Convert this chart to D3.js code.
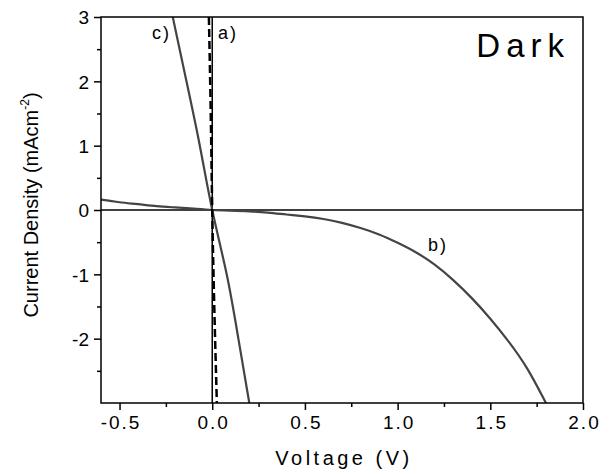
<!DOCTYPE html>
<html>
<head>
<meta charset="utf-8">
<script src="https://cdn.jsdelivr.net/npm/d3@7"></script>
<style>
  body { margin: 0; background: #fff; }
  text { font-family: "Liberation Sans", Arial, sans-serif; fill: #000; }
</style>
</head>
<body>
<script>
// werte
var voltA = [-0.018, -0.008, 0, 0.011, 0.025];
var currA = [3, 1.5, 0, -1.5, -3];

var voltB = [-0.6, -0.5, -0.4, -0.3, -0.2, -0.1, 0, 0.1, 0.2, 0.3, 0.4, 0.5, 0.6, 0.7, 0.8, 0.9, 1.0, 1.1, 1.2, 1.3, 1.4, 1.5, 1.6, 1.7, 1.8];
var currB = [0.16, 0.12, 0.09, 0.06, 0.04, 0.02, 0, -0.01, -0.02, -0.04, -0.07, -0.10, -0.14, -0.20, -0.28, -0.38, -0.51, -0.66, -0.85, -1.09, -1.37, -1.69, -2.05, -2.47, -3.0];

var voltC = [-0.213, -0.139, -0.067, 0, 0.078, 0.141, 0.2];
var currC = [3, 2, 1, 0, -1, -2, -3];

var xTicks = [-0.5, 0.0, 0.5, 1.0, 1.5, 2.0];
var xMinor = [-0.25, 0.25, 0.75, 1.25, 1.75];
var yTicks = [-2, -1, 0, 1, 2, 3];
var yMinor = [-2.5, -1.5, -0.5, 0.5, 1.5, 2.5];

var breite = 600, hoehe = 469;
var links = 101, rechts = 583, oben = 17, unten = 403;

var svg = d3.select('body').append('svg')
  .attr('width', breite)
  .attr('height', hoehe);

var x = d3.scaleLinear().domain([-0.6, 2.0]).range([links, rechts]);
var y = d3.scaleLinear().domain([-3, 3]).range([unten, oben]);

svg.append('clipPath').attr('id', 'clip')
  .append('rect')
  .attr('x', links).attr('y', oben)
  .attr('width', rechts - links).attr('height', unten - oben);

// null-linien
svg.append('line')
  .attr('x1', links).attr('x2', rechts)
  .attr('y1', y(0)).attr('y2', y(0))
  .attr('stroke', '#000').attr('stroke-width', 1.5);
svg.append('line')
  .attr('x1', x(0)).attr('x2', x(0))
  .attr('y1', oben).attr('y2', unten)
  .attr('stroke', '#000').attr('stroke-width', 1.5);

function punkte(vs, js) {
  return vs.map(function (v, i) { return [v, js[i]]; });
}

var linie = d3.line()
  .x(function (d) { return x(d[0]); })
  .y(function (d) { return y(d[1]); })
  .curve(d3.curveNatural);

var kurven = svg.append('g').attr('clip-path', 'url(#clip)');

kurven.append('path')
  .datum(punkte(voltB, currB))
  .attr('d', linie)
  .attr('fill', 'none')
  .attr('stroke', '#444')
  .attr('stroke-width', 2.2);

kurven.append('path')
  .datum(punkte(voltC, currC))
  .attr('d', linie)
  .attr('fill', 'none')
  .attr('stroke', '#444')
  .attr('stroke-width', 2.2);

kurven.append('path')
  .datum(punkte(voltA, currA))
  .attr('d', linie)
  .attr('fill', 'none')
  .attr('stroke', '#000')
  .attr('stroke-width', 2.5)
  .attr('stroke-dasharray', '8,4');

// rahmen
svg.append('rect')
  .attr('x', links).attr('y', oben)
  .attr('width', rechts - links).attr('height', unten - oben)
  .attr('fill', 'none')
  .attr('stroke', '#000')
  .attr('stroke-width', 1.5);

// normales minus statt unicode
var fmtX = function (d) { return d3.format('.1f')(d).replace('\u2212', '-'); };
var fmtY = function (d) { return d3.format('d')(d).replace('\u2212', '-'); };

// achsen
var xAchse = svg.append('g')
  .attr('transform', 'translate(0,' + unten + ')')
  .call(d3.axisBottom(x).tickValues(xTicks).tickSize(7).tickSizeOuter(0)
    .tickFormat(fmtX));
xAchse.append('g')
  .call(d3.axisBottom(x).tickValues(xMinor).tickSize(4).tickFormat(''));

var yAchse = svg.append('g')
  .attr('transform', 'translate(' + links + ',0)')
  .call(d3.axisLeft(y).tickValues(yTicks).tickSize(7).tickSizeOuter(0)
    .tickFormat(fmtY));
yAchse.append('g')
  .call(d3.axisLeft(y).tickValues(yMinor).tickSize(4).tickFormat(''));

svg.selectAll('.domain').remove();
svg.selectAll('.tick line').attr('stroke', '#000').attr('stroke-width', 1.5);

xAchse.selectAll('.tick text')
  .attr('y', 13)
  .attr('dy', '0.71em')
  .attr('dx', 1)
  .style('font-size', '19px')
  .style('letter-spacing', '2px')
  .style('font-family', '"Liberation Sans", Arial, sans-serif');

yAchse.selectAll('.tick text')
  .attr('x', -12)
  .attr('dy', '0.36em')
  .style('font-size', '19px')
  .style('font-family', '"Liberation Sans", Arial, sans-serif');

// achsentitel
svg.append('text')
  .attr('x', (links + rechts) / 2 + 2)
  .attr('y', 465)
  .attr('text-anchor', 'middle')
  .style('font-size', '20px')
  .style('letter-spacing', '3.5px')
  .text('Voltage (V)');

var yTitel = svg.append('text')
  .attr('transform', 'translate(38,' + 205 + ') rotate(-90)')
  .attr('text-anchor', 'middle')
  .style('font-size', '20px');
yTitel.append('tspan').text('Current Density (mAcm');
yTitel.append('tspan').attr('dy', -9).style('font-size', '12px').text('-2');
yTitel.append('tspan').attr('dy', 9).text(')');

// beschriftungen
svg.append('text')
  .attr('x', 570).attr('y', 57)
  .attr('text-anchor', 'end')
  .style('font-size', '33px')
  .style('letter-spacing', '6px')
  .text('Dark');

svg.append('text').attr('x', 152).attr('y', 39)
  .style('font-size', '18px').style('letter-spacing', '2px').text('c)');
svg.append('text').attr('x', 218).attr('y', 39)
  .style('font-size', '18px').style('letter-spacing', '2px').text('a)');
svg.append('text').attr('x', 428).attr('y', 251)
  .style('font-size', '18px').style('letter-spacing', '2px').text('b)');
</script>
</body>
</html>
